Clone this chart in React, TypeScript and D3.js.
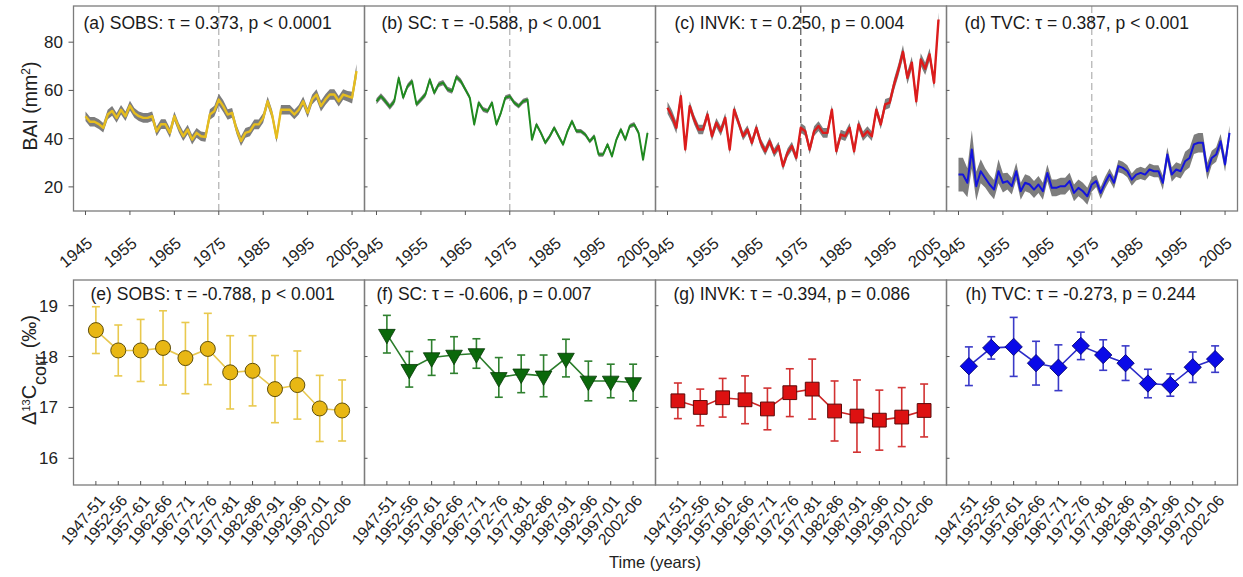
import React from 'react';
import * as d3 from 'd3';

const years = [1945,1946,1947,1948,1949,1950,1951,1952,1953,1954,1955,1956,1957,1958,1959,1960,1961,1962,1963,1964,1965,1966,1967,1968,1969,1970,1971,1972,1973,1974,1975,1976,1977,1978,1979,1980,1981,1982,1983,1984,1985,1986,1987,1988,1989,1990,1991,1992,1993,1994,1995,1996,1997,1998,1999,2000,2001,2002,2003,2004,2005,2006];

const sobsBAI = [49.3,47,47,46,44.5,50,51.5,48.6,52,49.3,53.7,50.7,49.3,48.6,48.6,49.3,43,46,46,42.4,49.3,44.5,41,43.8,39.6,42.4,41,40.7,50,51.4,56.2,53.5,50,50.7,43.8,39,42.4,43,45.9,45.9,48.6,55.5,50,40.3,52,52,52,50,52,55.5,50.7,56.2,58.3,53.5,56.2,58.3,58.3,55.5,58.3,57.6,57,68];
const sobsSE = [2,2,2,2,2,2,2,2,2,2,2,2,2,2,2,2,2,2,2,2,2,2,2,2,2,2,2,2,2.2,2.2,2.4,2.4,2.2,2,2,2,2,2,2,2,2,2,2,2,2,2,2,2,2,2,2,2,2.2,2.2,2.2,2.2,2.2,2.2,2.2,2.2,2.4,3];
const scBAI = [55.5,57.6,55.5,53.2,55.5,65.2,57,61.8,63.8,54.2,56.2,58.3,64.5,59,62.5,63.2,60.4,59.7,65.6,63.8,60.4,57,45.9,54.9,52.1,51.4,54.9,45.9,50.7,57,57.6,54.9,53.5,55.5,56.2,39.6,45.9,42.4,38.3,41,44.5,41,37.6,43.1,47.2,43.1,43.1,41.7,38.9,41,33.4,33.4,37.6,32.7,39.6,43.8,39.6,45.2,45.9,42.4,31.3,42.4];
const scSE = [1.2,1.2,1.2,1.2,1.2,1.2,1.1,1.1,1.1,1.1,1.1,1.1,1.1,1.1,1.1,1.1,1.1,1.1,1.1,1.1,1,1,1,1,1,1,1,1,1,1,1,1,1,1,1,0.9,0.9,0.9,0.9,0.9,0.9,0.9,0.9,0.9,0.9,0.9,0.9,0.9,0.9,0.9,0.9,0.9,0.9,0.9,0.9,0.9,0.9,0.9,1,1,1,1];
const invkBAI = [52.8,49.3,44.5,57.6,35.5,53.5,47.9,43.8,43.8,50,41,46.6,43.1,48.6,35.5,52,46.6,41,43.8,38.3,44.5,38.3,34.8,38.9,34.1,36.9,28.6,34.1,36.9,32,44.5,43.1,35.5,43.1,45.2,42.4,42.4,52,34.8,41.7,41,44.5,34.8,45.9,41,43.1,41,52,45.9,54.2,54.9,62.5,68.7,76,65.2,71.5,55.5,72.8,69,74.9,63.2,89.4];
const invkSE = [2.5,2.5,2.5,2.5,2,2,2,2,2,2,2,2,2,2,2,2,1.8,1.8,1.8,1.8,1.8,1.8,1.8,1.8,1.8,1.8,1.8,1.8,1.8,1.8,2,2,2,2,2,2,2,2,2,2,2,2,2,2,2,2,2,2,2,2.2,2.2,2.4,2.6,2.8,2.6,2.6,2.6,2.6,2.6,2.6,2.6,3];
const tvcBAI = [25.1,25.1,21.7,35.5,20.3,26.5,23.7,21,18.9,26.5,21.7,22.4,20.3,26.5,18.2,21.7,21,18.9,21,18.2,25.8,19.6,19.6,20.3,20.3,22.4,17.5,19.6,18.2,16.1,21,22.4,17.5,21.7,25.1,21.7,28.6,27.9,26.5,23,25.1,25.8,25.1,27.2,26.5,26.5,21.7,33.4,25.1,27.2,26.5,30.6,32,37.6,38.3,38.3,26.5,32,33.4,38.9,29.3,42.4];
const tvcSE = [7,7,6,8,6,5,4,4,4,5,4,3.5,3.5,3.5,3.5,3.5,3.5,3.5,3.5,3.5,3.5,3.5,3.5,3.5,3.5,3.5,3.5,3.5,3.5,3.5,3,2.5,2.5,2.5,2.5,2.5,2.5,2.5,2.5,2.5,2.5,2.5,2.5,2.5,2.5,2.5,3,3,3,3,3,4,4,4,4,4,3.5,3,3,3,3,3];

const periods = ['1947-51','1952-56','1957-61','1962-66','1967-71','1972-76','1977-81','1982-86','1987-91','1992-96','1997-01','2002-06'];
const sobsD13 = [18.52,18.12,18.12,18.17,17.97,18.15,17.69,17.72,17.36,17.44,16.98,16.94];
const sobsErr = [0.46,0.5,0.61,0.73,0.7,0.7,0.72,0.69,0.66,0.67,0.65,0.6];
const scD13 = [18.44,17.75,17.98,18.03,18.06,17.59,17.66,17.62,17.97,17.52,17.52,17.49];
const scErr = [0.37,0.35,0.35,0.36,0.29,0.39,0.37,0.41,0.37,0.39,0.33,0.36];
const invkD13 = [17.13,17.0,17.19,17.15,16.97,17.29,17.36,16.93,16.83,16.75,16.81,16.94];
const invkErr = [0.35,0.36,0.38,0.47,0.41,0.47,0.59,0.59,0.71,0.59,0.58,0.52];
const tvcD13 = [17.81,18.17,18.19,17.87,17.78,18.21,18.03,17.87,17.47,17.44,17.79,17.95];
const tvcErr = [0.38,0.22,0.58,0.43,0.45,0.27,0.30,0.34,0.28,0.22,0.30,0.26];

const yearTicks = [1945,1955,1965,1975,1985,1995,2005];
const baiTicks = [20,40,60,80];
const d13Ticks = [16,17,18,19];
const breakYear = 1975;

const topTitles = ['(a) SOBS: \u03c4 = 0.373, p < 0.0001','(b) SC: \u03c4 = -0.588, p < 0.001','(c) INVK: \u03c4 = 0.250, p = 0.004','(d) TVC: \u03c4 = 0.387, p < 0.001'];
const botTitles = ['(e) SOBS: \u03c4 = -0.788, p < 0.001','(f) SC: \u03c4 = -0.606, p = 0.007','(g) INVK: \u03c4 = -0.394, p = 0.086','(h) TVC: \u03c4 = -0.273, p = 0.244'];

const FONT = "'Liberation Sans', Arial, Helvetica, sans-serif";
const PL = 73.5;
const PW = 291;
const TOP0 = 6, TOP1 = 211, BOT0 = 280, BOT1 = 485;

const topSeries = [
  { v: sobsBAI, se: sobsSE, color: '#e6bd1e', w: 2.4, dash: '#b0b0b0', tx: 10 },
  { v: scBAI, se: scSE, color: '#1f8a1f', w: 2, dash: '#b0b0b0', tx: 17 },
  { v: invkBAI, se: invkSE, color: '#dc1c1c', w: 2.4, dash: '#555', tx: 19 },
  { v: tvcBAI, se: tvcSE, color: '#1414dc', w: 2, dash: '#b0b0b0', tx: 18 },
];
const botSeries = [
  { v: sobsD13, e: sobsErr, line: '#e8c850', err: '#e9c94e', fill: '#e8b714', stroke: '#5e4e0c', shape: 'circle', tx: 17 },
  { v: scD13, e: scErr, line: '#2b7d2b', err: '#2f802f', fill: '#0b680b', stroke: '#063806', shape: 'tri', tx: 12 },
  { v: invkD13, e: invkErr, line: '#cc2424', err: '#d23232', fill: '#dd1111', stroke: '#5a0a0a', shape: 'square', tx: 18 },
  { v: tvcD13, e: tvcErr, line: '#2b2bc8', err: '#3a3ac8', fill: '#0a0ae8', stroke: '#00006a', shape: 'diamond', tx: 19 },
];

function Marker({ shape, x, y, fill, stroke }: any) {
  if (shape === 'circle') return <circle cx={x} cy={y} r={7.5} fill={fill} stroke={stroke} strokeWidth={1} />;
  if (shape === 'tri') {
    const p = d3.symbol().type(d3.symbolTriangle).size(120)();
    return <path d={p || ''} transform={`translate(${x},${y}) rotate(180)`} fill={fill} stroke={stroke} strokeWidth={0.8} />;
  }
  if (shape === 'square') {
    const p = d3.symbol().type(d3.symbolSquare).size(190)();
    return <path d={p || ''} transform={`translate(${x},${y})`} fill={fill} stroke={stroke} strokeWidth={1} />;
  }
  const p = d3.symbol().type(d3.symbolSquare).size(150)();
  return <path d={p || ''} transform={`translate(${x},${y}) rotate(45)`} fill={fill} stroke={stroke} strokeWidth={0.8} />;
}

export default function App() {
  const yTop = d3.scaleLinear().domain([10, 95]).range([TOP1, TOP0]);
  const yBot = d3.scaleLinear().domain([15.475, 19.505]).range([BOT1, BOT0]);
  const frame = '#7c7c7c';

  return (
    <svg width={1243} height={577} style={{ position: 'absolute', left: 0, top: 0, background: '#fff' }} fontFamily={FONT}>
      <rect x={0} y={0} width={1243} height={577} fill="#fff" />
      {topSeries.map((s, i) => {
        const left = PL + i * PW;
        const x = d3.scaleLinear().domain([1942.3, 2007.8]).range([left, left + PW]);
        const area = d3.area<number>().x((_, k) => x(years[k])).y0((d, k) => yTop(d - s.se[k])).y1((d, k) => yTop(d + s.se[k]));
        const line = d3.line<number>().x((_, k) => x(years[k])).y((d) => yTop(d));
        return (
          <g key={'t' + i}>
            <line x1={x(breakYear)} x2={x(breakYear)} y1={TOP0} y2={TOP1} stroke={s.dash} strokeWidth={1.2} strokeDasharray="7,4" />
            <path d={area(s.v) || ''} fill="#7d7d7d" />
            <path d={line(s.v) || ''} fill="none" stroke={s.color} strokeWidth={s.w} strokeLinejoin="round" />
            <rect x={left} y={TOP0} width={PW} height={TOP1 - TOP0} fill="none" stroke={frame} strokeWidth={1.3} />
            {yearTicks.map((t) => (
              <g key={t}>
                <line x1={x(t)} x2={x(t)} y1={TOP1} y2={TOP1 + 4} stroke="#555" strokeWidth={1} />
                <text transform={`translate(${x(t) + 8},${TOP1 + 34}) rotate(-40)`} textAnchor="end" fontSize={16.5} fill="#222">{t}</text>
              </g>
            ))}
            {baiTicks.map((t) => (
              <line key={t} x1={i === 0 ? left - 5 : left} x2={i === 0 ? left : left + 3} y1={yTop(t)} y2={yTop(t)} stroke="#555" strokeWidth={1} />
            ))}
            <text x={left + s.tx} y={28.5} fontSize={17.5} fill="#1a1a1a">{topTitles[i]}</text>
          </g>
        );
      })}
      {baiTicks.map((t) => (
        <text key={t} x={63} y={yTop(t) + 6} textAnchor="end" fontSize={17} fill="#222">{t}</text>
      ))}
      <text transform={`translate(37,106) rotate(-90)`} textAnchor="middle" fontSize={19.5} fill="#222">
        BAI (mm<tspan baselineShift="super" fontSize={12}>2</tspan>)
      </text>

      {botSeries.map((s, i) => {
        const left = PL + i * PW;
        const x = d3.scaleLinear().domain([-1, 12]).range([left, left + PW]);
        const line = d3.line<number>().x((_, k) => x(k)).y((d) => yBot(d));
        return (
          <g key={'b' + i}>
            <path d={line(s.v) || ''} fill="none" stroke={s.line} strokeWidth={1.6} />
            {s.v.map((d, k) => (
              <g key={k} stroke={s.err} strokeWidth={1.6}>
                <line x1={x(k)} x2={x(k)} y1={yBot(d - s.e[k])} y2={yBot(d + s.e[k])} />
                <line x1={x(k) - 4} x2={x(k) + 4} y1={yBot(d - s.e[k])} y2={yBot(d - s.e[k])} />
                <line x1={x(k) - 4} x2={x(k) + 4} y1={yBot(d + s.e[k])} y2={yBot(d + s.e[k])} />
              </g>
            ))}
            {s.v.map((d, k) => (
              <Marker key={'m' + k} shape={s.shape} x={x(k)} y={yBot(d)} fill={s.fill} stroke={s.stroke} />
            ))}
            <rect x={left} y={BOT0} width={PW} height={BOT1 - BOT0} fill="none" stroke={frame} strokeWidth={1.3} />
            {periods.map((p, k) => (
              <g key={p}>
                <line x1={x(k)} x2={x(k)} y1={BOT1} y2={BOT1 - 4} stroke="#555" strokeWidth={1} />
                <text transform={`translate(${x(k) + 10},${BOT1 + 16}) rotate(-50)`} textAnchor="end" fontSize={16} fill="#222">{p}</text>
              </g>
            ))}
            {d13Ticks.map((t) => (
              <line key={t} x1={i === 0 ? left - 5 : left} x2={i === 0 ? left : left + 3} y1={yBot(t)} y2={yBot(t)} stroke="#555" strokeWidth={1} />
            ))}
            <text x={left + s.tx} y={299.5} fontSize={17.5} fill="#1a1a1a">{botTitles[i]}</text>
          </g>
        );
      })}
      {d13Ticks.map((t) => (
        <text key={t} x={58} y={yBot(t) + 6} textAnchor="end" fontSize={17} fill="#222">{t}</text>
      ))}
      <text transform={`translate(36,370) rotate(-90)`} textAnchor="middle" fontSize={20} fill="#222">
        {'\u0394'}<tspan baselineShift="super" fontSize={11}>13</tspan>C<tspan baselineShift="sub" fontSize={18}>corr</tspan> (‰)
      </text>
      <text x={655} y={568} textAnchor="middle" fontSize={16.5} fill="#222">Time (years)</text>
    </svg>
  );
}
